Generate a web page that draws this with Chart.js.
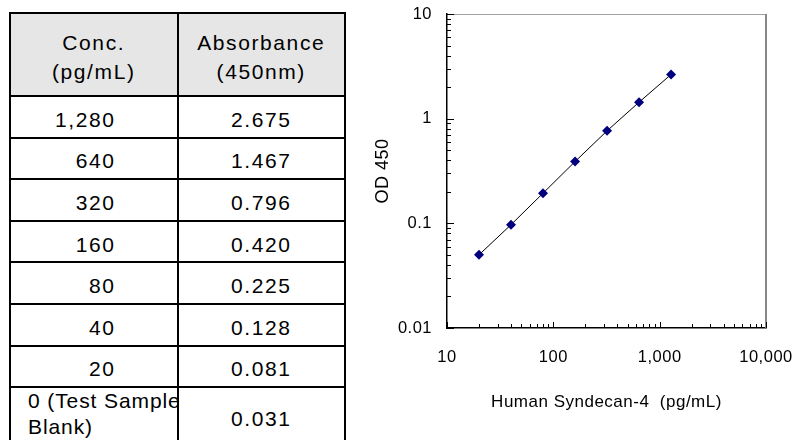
<!DOCTYPE html>
<html>
<head>
<meta charset="utf-8">
<script src="https://cdn.jsdelivr.net/npm/chart.js@4.4.1/dist/chart.umd.min.js"></script>
<style>
  body { margin: 0; width: 794px; height: 440px; overflow: hidden; background: #fff; font-family: "Liberation Sans", Arial, sans-serif; }
  #stdTable { position: absolute; left: 9px; top: 12px; width: 337px; border-collapse: collapse; table-layout: fixed; }
  #stdTable td { border: 2px solid #000; font-size: 21px; letter-spacing: 1.6px; color: #000; padding: 6px 0 0 0; vertical-align: middle; }
  #stdTable td.conc { text-align: right; padding-right: 61px; }
  #stdTable td.abs { text-align: center; }
  #stdTable tr.head td { background: #e6e6e6; text-align: center; padding: 4px 0 0 0; line-height: 29px; }
  #stdTable tr.last td.abs { padding-top: 0; }
  #stdTable td.blank { text-align: left; vertical-align: top; padding: 0 0 0 17px; line-height: 26px; letter-spacing: 0.9px; white-space: nowrap; overflow: visible; }
  #chartBox { position: absolute; left: 360px; top: 0; width: 434px; height: 440px; }
</style>
</head>
<body>
<table id="stdTable">
  <colgroup><col style="width:50%"><col style="width:50%"></colgroup>
  <tbody id="tableBody"></tbody>
</table>
<div id="chartBox"><canvas id="curveChart" width="434" height="440"></canvas></div>
<script>
// table values
let tableConc = ['1,280', '640', '320', '160', '80', '40', '20', '0 (Test Sample Blank)'];
let tableAbs = [2.675, 1.467, 0.796, 0.420, 0.225, 0.128, 0.081, 0.031];

// plotted standard curve (blank corrected OD)
let curveConc = [20, 40, 80, 160, 320, 640, 1280];
let curveOD = [0.050, 0.097, 0.194, 0.389, 0.765, 1.436, 2.644];

// axis tick labels
let xTickValues = [10, 100, 1000, 10000];
let yTickValues = [0.01, 0.1, 1, 10];

function buildTable() {
    let body = document.getElementById('tableBody');
    let head = document.createElement('tr');
    head.className = 'head';
    head.style.height = '83px';
    head.innerHTML = '<td>Conc.<br>(pg/mL)</td><td>Absorbance<br>(450nm)</td>';
    body.appendChild(head);
    for (let i = 0; i < tableConc.length; i++) {
        let row = document.createElement('tr');
        let isBlank = i === tableConc.length - 1;
        row.style.height = isBlank ? '63px' : '41.6px';
        let c = document.createElement('td');
        if (isBlank) {
            row.className = 'last';
            c.className = 'blank';
            c.innerHTML = '0 (Test Sample<br>Blank)';
        } else {
            c.className = 'conc';
            c.textContent = tableConc[i];
        }
        let a = document.createElement('td');
        a.className = 'abs';
        a.textContent = tableAbs[i].toFixed(3);
        row.appendChild(c);
        row.appendChild(a);
        body.appendChild(row);
    }
}

function noOverflow(scale) {
    scale.paddingTop = 0;
    scale.paddingBottom = 0;
    scale.paddingLeft = 0;
    scale.paddingRight = 0;
}

// inside tick marks plus the grey top/right frame
const frameTicks = {
    id: 'frameTicks',
    beforeLayout(chart) {
        chart.ctx.letterSpacing = '0.5px';
    },
    beforeDraw(chart) {
        chart.ctx.letterSpacing = '0.5px';
    },
    afterDraw(chart) {
        let ctx = chart.ctx;
        let area = chart.chartArea;
        let xs = chart.scales.x;
        let ys = chart.scales.y;
        ctx.save();
        ctx.strokeStyle = '#a0a0a0';
        ctx.lineWidth = 1;
        ctx.beginPath();
        ctx.moveTo(area.left, area.top + 0.5);
        ctx.lineTo(area.right, area.top + 0.5);
        ctx.stroke();
        ctx.lineWidth = 2;
        ctx.strokeStyle = '#888';
        ctx.beginPath();
        ctx.moveTo(area.right, area.top);
        ctx.lineTo(area.right, area.bottom);
        ctx.stroke();

        ctx.strokeStyle = '#000';
        ctx.lineWidth = 1;
        ctx.beginPath();
        for (let d = 10; d < 10000; d *= 10) {
            for (let m = 1; m <= 10; m++) {
                let px = Math.round(xs.getPixelForValue(d * m)) + 0.5;
                let len = (m === 1 || m === 10) ? 6 : 4;
                ctx.moveTo(px, area.bottom);
                ctx.lineTo(px, area.bottom - len);
            }
        }
        for (let d = 0.01; d < 10; d *= 10) {
            for (let m = 1; m <= 10; m++) {
                let py = Math.round(ys.getPixelForValue(d * m)) + 0.5;
                let len = (m === 1 || m === 10) ? 7 : 4;
                ctx.moveTo(area.left, py);
                ctx.lineTo(area.left + len, py);
            }
        }
        ctx.stroke();
        ctx.restore();
    }
};

let ctx = document.getElementById('curveChart').getContext('2d');
let curveChart;

function renderCurve() {
    let points = curveConc.map((c, i) => ({ x: c, y: curveOD[i] }));
    curveChart = new Chart(ctx, {
        type: 'line',
        data: {
            datasets: [{
                data: points,
                borderColor: '#000',
                borderWidth: 1,
                pointStyle: 'rectRot',
                pointRadius: 5,
                pointBackgroundColor: '#00007f',
                pointBorderColor: '#00007f',
                pointBorderWidth: 0,
                tension: 0
            }]
        },
        options: {
            responsive: false,
            animation: false,
            layout: { padding: { left: 0, right: 28, top: 14, bottom: 0 } },
            plugins: { legend: { display: false }, tooltip: { enabled: false } },
            scales: {
                x: {
                    type: 'logarithmic',
                    min: 10,
                    max: 10000,
                    afterBuildTicks: function(scale) {
                        scale.ticks = xTickValues.map(v => ({ value: v }));
                    },
                    afterFit: function(scale) {
                        scale.height = 112;
                        noOverflow(scale);
                    },
                    grid: { display: false, drawTicks: false },
                    border: { display: true, color: '#000', width: 1.5 },
                    ticks: {
                        padding: 20,
                        color: '#000',
                        font: { family: 'Liberation Sans', size: 16.5 },
                        maxRotation: 0,
                        autoSkip: false,
                        callback: function(value) {
                            return Number(value).toLocaleString('en-US');
                        }
                    },
                    title: {
                        display: true,
                        text: 'Human Syndecan-4  (pg/mL)',
                        color: '#000',
                        font: { family: 'Liberation Sans', size: 17 },
                        padding: { top: 0, bottom: 27 }
                    }
                },
                y: {
                    type: 'logarithmic',
                    min: 0.01,
                    max: 10,
                    afterBuildTicks: function(scale) {
                        scale.ticks = yTickValues.map(v => ({ value: v }));
                    },
                    afterFit: function(scale) {
                        scale.width = 87;
                        noOverflow(scale);
                    },
                    grid: { display: false, drawTicks: false },
                    border: { display: true, color: '#000', width: 1.5 },
                    ticks: {
                        padding: 15,
                        color: '#000',
                        font: { family: 'Liberation Sans', size: 16.5 },
                        autoSkip: false,
                        callback: function(value) {
                            return String(value);
                        }
                    },
                    title: {
                        display: true,
                        text: 'OD 450',
                        color: '#000',
                        font: { family: 'Liberation Sans', size: 18 },
                        padding: { top: 12, bottom: 0 }
                    }
                }
            }
        },
        plugins: [frameTicks]
    });
}

document.addEventListener('DOMContentLoaded', function() {
    buildTable();
    renderCurve();
});
</script>
</body>
</html>
